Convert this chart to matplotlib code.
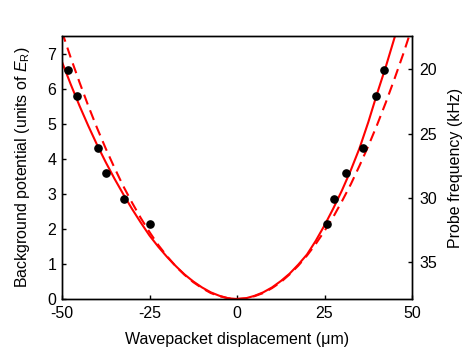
import matplotlib
matplotlib.use("Agg")
import matplotlib.pyplot as plt

plt.rcParams['font.family'] = ['Liberation Sans', 'DejaVu Sans']
plt.rcParams['mathtext.fontset'] = 'custom'
plt.rcParams['mathtext.rm'] = 'Liberation Sans'
plt.rcParams['mathtext.it'] = 'Liberation Sans:italic'
plt.rcParams['axes.unicode_minus'] = False

# measured points
dots_x = [-48.4, -45.6, -39.8, -37.4, -32.3, -24.9, 25.7, 27.8, 31.1, 35.9, 39.6, 42.0]
dots_v = [6.52, 5.78, 4.32, 3.59, 2.86, 2.13, 2.13, 2.86, 3.59, 4.32, 5.78, 6.52]

# solid curve
solid_x = [-50, -47.5, -45, -42.5, -40, -37.5, -35, -32.5, -30, -27.5, -25, -22.5, -20,
           -17.5, -15, -12.5, -10, -7.5, -5, -2.5, 0, 2.5, 5, 7.5, 10, 12.5, 15, 17.5,
           20, 22.5, 25, 27.5, 30, 32.5, 35, 37.5, 40, 42.5, 45, 46]
solid_v = [6.76, 6.12, 5.51, 4.94, 4.40, 3.90, 3.43, 2.99, 2.57, 2.18, 1.81, 1.49, 1.20,
           0.94, 0.70, 0.50, 0.33, 0.19, 0.09, 0.02, 0.0, 0.02, 0.09, 0.19, 0.33, 0.51,
           0.72, 0.98, 1.27, 1.66, 2.10, 2.58, 3.10, 3.67, 4.30, 5.04, 5.85, 6.62, 7.45, 7.80]

# dashed curve
dash_x = [-50, -47.5, -45, -42.5, -40, -37.5, -35, -32.5, -30, -27.5, -25, -22.5, -20,
          -17.5, -15, -12.5, -10, -7.5, -5, -2.5, 0, 2.5, 5, 7.5, 10, 12.5, 15, 17.5,
          20, 22.5, 25, 27.5, 30, 32.5, 35, 37.5, 40, 42.5, 45, 47.5, 50]
dash_v = [7.62, 6.88, 6.18, 5.51, 4.88, 4.29, 3.74, 3.22, 2.75, 2.31, 1.91, 1.54, 1.22,
          0.93, 0.69, 0.48, 0.31, 0.17, 0.08, 0.02, 0.0, 0.02, 0.08, 0.17, 0.31, 0.48,
          0.70, 0.95, 1.24, 1.57, 1.94, 2.34, 2.79, 3.27, 3.80, 4.36, 4.96, 5.60, 6.28,
          6.99, 7.75]

freq_lim = (37.85, 17.4)
freq_ticks = [20, 25, 30, 35]

fs = 11.5

fig = plt.figure(figsize=(4.69, 3.54), dpi=100)
ax = fig.add_axes([0.1322, 0.1554, 0.7463, 0.7429])

ax.plot(dash_x, dash_v, color='#ff0000', lw=1.5, dashes=(5, 3))
ax.plot(solid_x, solid_v, color='#ff0000', lw=1.5)
ax.plot(dots_x, dots_v, 'o', color='black', ms=5.2, mec='black')

ax.set_xlim(-50, 50)
ax.set_ylim(0, 7.5)
ax.set_xticks([-50, -25, 0, 25, 50])
ax.set_yticks(range(8))
ax.tick_params(direction='in', length=3, width=1, labelsize=fs, top=False, right=False)
ax.tick_params(axis='x', pad=5)
ax.tick_params(axis='y', pad=4)
ax.set_xlabel('Wavepacket displacement (μm)', fontsize=fs, labelpad=8)
ax.set_ylabel(r'Background potential (units of $E_{\rm R}$)', fontsize=fs, labelpad=11)
for s in ax.spines.values():
    s.set_linewidth(1.0)

ax2 = ax.twinx()
ax2.set_ylim(*freq_lim)
ax2.set_yticks(freq_ticks)
ax2.tick_params(direction='in', length=3, width=1, labelsize=fs, pad=5)
ax2.set_ylabel('Probe frequency (kHz)', fontsize=fs, labelpad=8)
for s in ax2.spines.values():
    s.set_linewidth(1.0)

fig.savefig('out.png', dpi=100)
